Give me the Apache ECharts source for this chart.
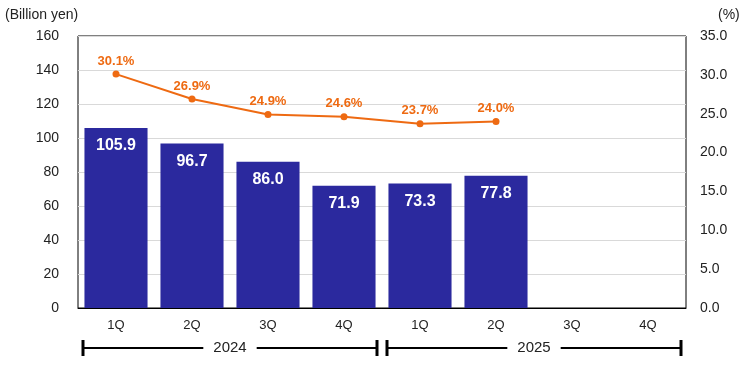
<!DOCTYPE html>
<html><head><meta charset="utf-8">
<script src="https://cdn.jsdelivr.net/npm/echarts@6/dist/echarts.min.js"></script>
<style>html,body{margin:0;padding:0;background:#fff}#c{width:756px;height:374px}</style>
</head><body><div id="c"></div>
<script>
const categories = ['1Q','2Q','3Q','4Q','1Q','2Q','3Q','4Q'];
const years = ['2024','2025'];
const yearSpans = [[0,3],[4,7]];
const sales = [105.9, 96.7, 86.0, 71.9, 73.3, 77.8, null, null];
const ratio = [30.1, 26.9, 24.9, 24.6, 23.7, 24.0, null, null];
const leftTicks = [0,20,40,60,80,100,120,140,160];
const rightTicks = [0,5,10,15,20,25,30,35];

const FONT = '"Liberation Sans", Arial, sans-serif';
const chart = echarts.init(document.getElementById('c'));
const option = {
  animation: false,
  textStyle: {fontFamily: FONT},
  grid: {left: 78, right: 70, top: 36, bottom: 66, show: true, borderColor: '#000', borderWidth: 1, containLabel: false},
  xAxis: {
    type: 'category', data: categories,
    axisLine: {show: true, lineStyle: {color: '#000'}},
    axisTick: {show: false},
    axisLabel: {color: '#222', fontSize: 13, margin: 11, fontFamily: FONT}
  },
  yAxis: [{
    type: 'value', min: leftTicks[0], max: leftTicks[leftTicks.length-1], interval: 20,
    name: '(Billion yen)', nameLocation: 'end', nameGap: 14,
    nameTextStyle: {color: '#222', fontSize: 14, align: 'left', padding: [0,0,0,-73], fontFamily: FONT},
    axisLine: {show: false}, axisTick: {show: false},
    axisLabel: {color: '#222', fontSize: 14, margin: 19, fontFamily: FONT},
    splitLine: {lineStyle: {color: '#d9d9d9'}}
  },{
    type: 'value', min: rightTicks[0], max: rightTicks[rightTicks.length-1], interval: 5,
    name: '(%)', nameLocation: 'end', nameGap: 14,
    nameTextStyle: {color: '#222', fontSize: 14, align: 'left', padding: [0,0,0,32], fontFamily: FONT},
    axisLine: {show: false}, axisTick: {show: false},
    axisLabel: {color: '#222', fontSize: 14, margin: 14, fontFamily: FONT, formatter: v => v.toFixed(1)},
    splitLine: {show: false}
  }],
  series: [{
    type: 'bar', data: sales, yAxisIndex: 0, barCategoryGap: '17%',
    itemStyle: {color: '#2B299E'},
    label: {show: true, position: 'insideTop', distance: 10, color: '#fff', fontSize: 16, fontWeight: 'bold', fontFamily: FONT, formatter: p => p.value.toFixed(1)}
  },{
    type: 'line', data: ratio, yAxisIndex: 1,
    lineStyle: {color: '#EE6A12', width: 2},
    itemStyle: {color: '#EE6A12'},
    symbol: 'circle', symbolSize: 7,
    label: {show: true, position: 'top', distance: 3, color: '#EE6A12', fontSize: 13, fontWeight: 'bold', fontFamily: FONT, formatter: p => p.value.toFixed(1) + '%'}
  }]
};
chart.setOption(option);

const half = (chart.convertToPixel({xAxisIndex:0}, 1) - chart.convertToPixel({xAxisIndex:0}, 0)) / 2;
const yLine = 348;
const g = [];
yearSpans.forEach((s, i) => {
  const x0 = chart.convertToPixel({xAxisIndex:0}, s[0]) - half + 5;
  const x1 = chart.convertToPixel({xAxisIndex:0}, s[1]) + half - 5;
  g.push({type:'line', shape:{x1:x0, y1:yLine, x2:x1, y2:yLine}, style:{stroke:'#000', lineWidth:2}});
  g.push({type:'line', shape:{x1:x0, y1:yLine-8, x2:x0, y2:yLine+8}, style:{stroke:'#000', lineWidth:3}});
  g.push({type:'line', shape:{x1:x1, y1:yLine-8, x2:x1, y2:yLine+8}, style:{stroke:'#000', lineWidth:3}});
  g.push({type:'text', x:(x0+x1)/2, y:yLine, style:{text:years[i], fill:'#222', font:'15px ' + FONT, align:'center', verticalAlign:'middle', backgroundColor:'#fff', padding:[0,10,0,10]}});
});
chart.setOption({graphic: g});
</script></body></html>
